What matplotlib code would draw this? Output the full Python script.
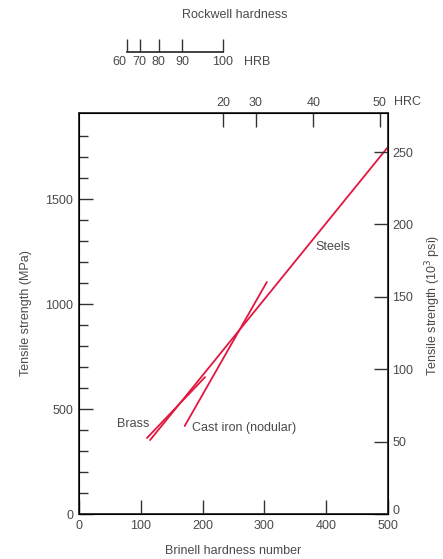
import matplotlib
matplotlib.use("Agg")
import matplotlib.pyplot as plt
from matplotlib.ticker import FixedLocator, MultipleLocator
from matplotlib.transforms import ScaledTranslation

plt.rcParams["font.family"] = ["Liberation Sans", "DejaVu Sans"]
plt.rcParams["font.size"] = 9

TXT = "#4a4a4a"
AXC = "#333333"
RED = "#e3163f"

# curves: Brinell hardness vs tensile strength (MPa)
steels_hb = [115, 500]
steels_mpa = [352, 1748]
brass_hb = [110, 204]
brass_mpa = [362, 652]
castiron_hb = [171, 304]
castiron_mpa = [419, 1105]

# Rockwell scales, placed at their Brinell equivalents
hrc_values = [20, 30, 40, 50]
hrc_hb = [233, 286, 379, 487]
hrb_values = [60, 70, 80, 90, 100]
hrb_hb = [78, 98, 129, 167, 233]

psi_ticks = [0, 50, 100, 150, 200, 250]
mpa_major = [0, 500, 1000, 1500]
mpa_minor = [100, 200, 300, 400, 600, 700, 800, 900, 1100, 1200, 1300, 1400, 1600, 1700, 1800]

y_max = 1910
mpa_per_ksi = 6.895

fig = plt.figure(figsize=(4.43, 5.59), dpi=100)
ax = fig.add_axes([0.1783, 0.0805, 0.6975, 0.7174])

ax.plot(steels_hb, steels_mpa, color=RED, lw=1.3, solid_capstyle="round")
ax.plot(brass_hb, brass_mpa, color=RED, lw=1.3, solid_capstyle="round")
ax.plot(castiron_hb, castiron_mpa, color=RED, lw=1.3, solid_capstyle="round")

ax.text(87, 428, "Brass", color=TXT, ha="center", va="center")
ax.text(183, 409, "Cast iron (nodular)", color=TXT, ha="left", va="center")
ax.text(382, 1274, "Steels", color=TXT, ha="left", va="center")

ax.set_xlim(0, 500)
ax.set_ylim(0, y_max)
ax.xaxis.set_major_locator(MultipleLocator(100))
ax.yaxis.set_major_locator(FixedLocator(mpa_major))
ax.yaxis.set_minor_locator(FixedLocator(mpa_minor))
ax.tick_params(axis="both", which="major", direction="in", length=10, width=1,
               color=AXC, labelcolor=TXT, pad=4)
ax.tick_params(axis="y", which="minor", direction="in", length=6.5, width=1, color=AXC)
ax.set_xlabel("Brinell hardness number", color=TXT, labelpad=10)
ax.set_ylabel("Tensile strength (MPa)", color=TXT, labelpad=10)
for s in ax.spines.values():
    s.set_color(AXC)
    s.set_linewidth(1.1)

# right axis in 10^3 psi
axr = ax.twinx()
axr.set_ylim(0, y_max / mpa_per_ksi)
axr.yaxis.set_major_locator(FixedLocator(psi_ticks))
axr.tick_params(axis="y", direction="in", length=10, width=1, color=AXC,
                labelcolor=TXT, pad=3)
for s in axr.spines.values():
    s.set_color(AXC)
    s.set_linewidth(1.1)
zero_r = axr.get_yticklabels()[0]
zero_r.set_transform(zero_r.get_transform() + ScaledTranslation(0, 0.05, fig.dpi_scale_trans))
fig.text(433 / 443, 1 - 305 / 559, "Tensile strength (10$^3$ psi)", color=TXT,
         rotation=90, ha="center", va="center")

# top axis: Rockwell C
axt = ax.twiny()
axt.set_xlim(0, 500)
axt.xaxis.set_major_locator(FixedLocator(hrc_hb))
axt.set_xticklabels([str(v) for v in hrc_values])
axt.tick_params(axis="x", direction="in", length=10, width=1, color=AXC,
                labelcolor=TXT, pad=3)
fig.text(394 / 443, 1 - 102 / 559, "HRC", color=TXT, ha="left", va="center")

# Rockwell B scale above the plot
axb = fig.add_axes([0.1783, 0.9065, 0.6975, 0.02])
axb.set_xlim(0, 500)
axb.set_ylim(0, 1)
axb.patch.set_visible(False)
for side in ["top", "left", "right"]:
    axb.spines[side].set_visible(False)
axb.spines["bottom"].set_bounds(hrb_hb[0], hrb_hb[-1])
axb.spines["bottom"].set_color(AXC)
axb.spines["bottom"].set_linewidth(1.3)
axb.set_yticks([])
axb.xaxis.set_major_locator(FixedLocator(hrb_hb))
axb.set_xticklabels([str(v) for v in hrb_values])
axb.tick_params(axis="x", direction="in", length=9.5, width=1, color=AXC,
                labelcolor=TXT, pad=3)
first = axb.get_xticklabels()[0]
first.set_transform(first.get_transform() + ScaledTranslation(-0.08, 0, fig.dpi_scale_trans))
fig.text(244 / 443, 1 - 62 / 559, "HRB", color=TXT, ha="left", va="center")
fig.text(235 / 443, 1 - 15 / 559, "Rockwell hardness", color=TXT, ha="center", va="center")

fig.savefig("out.png", dpi=100)
